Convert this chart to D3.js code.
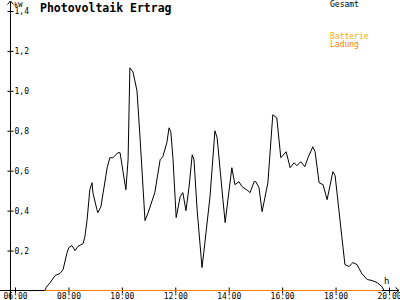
<!DOCTYPE html>
<html>
<head>
<script src="https://d3js.org/d3.v7.min.js"></script>
<style>
  body { margin: 0; background: #fff; }
  text { font-family: "DejaVu Sans Mono", monospace; }
  .axis text { font-size: 8px; fill: #000; }
  .line { fill: none; stroke: #000; stroke-width: 1px; }
</style>
</head>
<body>
<script>
// values
var times = ["07:07","07:10","07:19","07:30","07:41","07:48","07:57","08:01","08:08","08:15",
  "08:21","08:33","08:37","08:42","08:48","08:53","08:55","09:04","09:06","09:13",
  "09:18","09:27","09:33","09:40","09:51","09:56","10:03","10:09","10:14","10:18",
  "10:25","10:34","10:41","10:52","10:59","11:14","11:26","11:32","11:41","11:46",
  "11:50","11:55","12:02","12:11","12:17","12:24","12:31","12:38","12:42","12:49",
  "13:00","13:04","13:18","13:29","13:34","13:47","13:52","14:07","14:14","14:23",
  "14:30","14:43","14:48","14:57","15:01","15:08","15:15","15:28","15:39","15:48",
  "15:57","16:09","16:18","16:27","16:33","16:42","16:51","16:58","17:09","17:14",
  "17:23","17:32","17:41","17:54","17:59","18:14","18:21","18:30","18:39","18:48",
  "18:59","19:11","19:22","19:33","19:44","19:49"];
var gesamt = [0,0.015,0.04,0.075,0.085,0.105,0.19,0.215,0.225,0.2,
  0.22,0.235,0.27,0.355,0.505,0.54,0.49,0.405,0.39,0.42,
  0.49,0.615,0.665,0.665,0.69,0.69,0.59,0.505,0.655,1.115,
  1.095,1.0,0.76,0.35,0.39,0.49,0.655,0.67,0.74,0.815,
  0.795,0.655,0.365,0.47,0.49,0.4,0.52,0.68,0.655,0.405,
  0.115,0.19,0.47,0.8,0.765,0.455,0.34,0.615,0.53,0.545,
  0.52,0.5,0.49,0.545,0.545,0.515,0.395,0.54,0.88,0.865,
  0.665,0.695,0.615,0.64,0.625,0.645,0.62,0.665,0.72,0.695,
  0.54,0.53,0.455,0.595,0.575,0.27,0.13,0.12,0.14,0.13,
  0.085,0.055,0.05,0.04,0.02,0];
var battStart = "07:07", battEnd = "19:44";
var yTicks = [0.2, 0.4, 0.6, 0.8, 1.0, 1.2, 1.4];
var xTicks = ["06:00","08:00","10:00","12:00","14:00","16:00","18:00","20:00"];
var legend = ["Gesamt", "Batterie", "Ladung"];

var parseTime = d3.timeParse("%H:%M");

var svg = d3.select("body").append("svg")
    .attr("width", 400)
    .attr("height", 300);

var x_scale = d3.scaleTime()
    .domain([parseTime("06:00"), parseTime("20:00")])
    .range([15, 389]);

var y_scale = d3.scaleLinear()
    .domain([0, 1.4])
    .range([290.5, 11]);

var fmt = function(d) { return d3.format(".1f")(d).replace(".", ","); };

// y axis
var y_axis = d3.axisLeft(y_scale).tickValues(yTicks).tickFormat(fmt).tickSize(0);
var gy = svg.append("g").attr("class", "axis")
    .attr("transform", "translate(10.5,0)")
    .call(y_axis);
gy.select(".domain").remove();
gy.selectAll(".tick line").attr("x1", -3).attr("x2", 3).attr("stroke", "#000");
gy.selectAll(".tick text").attr("x", 4).attr("dy", "0.35em").style("text-anchor", "start");

// x axis
var x_axis = d3.axisBottom(x_scale)
    .tickValues(xTicks.map(parseTime))
    .tickFormat(d3.timeFormat("%H:%M"))
    .tickSize(0);
var gx = svg.append("g").attr("class", "axis")
    .attr("transform", "translate(0,290.5)")
    .call(x_axis);
gx.select(".domain").remove();
gx.selectAll(".tick line").attr("y1", -3).attr("y2", 3).attr("stroke", "#000");
gx.selectAll(".tick text").attr("y", 3).attr("dy", "0.71em");

// axis lines with arrows
svg.append("line").attr("x1", 10.5).attr("x2", 10.5).attr("y1", 1).attr("y2", 300).attr("stroke", "#000");
svg.append("path").attr("d", "M7.5,4.5 L10.5,1 L13.5,4.5").attr("fill", "none").attr("stroke", "#000");
svg.append("line").attr("x1", 0).attr("x2", 399).attr("y1", 290.5).attr("y2", 290.5).attr("stroke", "#000");
svg.append("path").attr("d", "M395.5,287.5 L399,290.5 L395.5,293.5").attr("fill", "none").attr("stroke", "#000");

svg.append("text").attr("x", 14).attr("y", 7).style("font-size", "7px").text("kW");
svg.append("text").attr("x", 384).attr("y", 284).style("font-size", "9px").text("h");

svg.append("text")
    .attr("x", 40).attr("y", 12)
    .style("font-size", "11.5px").style("font-weight", "bold")
    .text("Photovoltaik Ertrag");

// battery + charge lines (zero)
svg.append("line")
    .attr("x1", x_scale(parseTime(battStart))).attr("x2", x_scale(parseTime(battEnd)))
    .attr("y1", y_scale(0)).attr("y2", y_scale(0))
    .attr("stroke", "#ffaa00").attr("stroke-width", 1);
svg.append("line")
    .attr("x1", x_scale(parseTime(battStart))).attr("x2", x_scale(parseTime(battEnd)))
    .attr("y1", y_scale(0)).attr("y2", y_scale(0))
    .attr("stroke", "#ff8000").attr("stroke-width", 1);

// total line
var data = times.map(function(t, i) { return {t: parseTime(t), v: gesamt[i]}; });
var valueline = d3.line()
    .x(function(d) { return x_scale(d.t); })
    .y(function(d) { return y_scale(d.v); });
svg.append("path").attr("class", "line").attr("d", valueline(data));

// legend
var legColors = ["#000", "#ffaa00", "#ff8000"];
var legY = [7, 39, 47];
svg.selectAll(".leg").data(legend).enter().append("text")
    .attr("class", "leg")
    .attr("x", 330)
    .attr("y", function(d, i) { return legY[i]; })
    .style("font-size", "8px")
    .attr("fill", function(d, i) { return legColors[i]; })
    .text(function(d) { return d; });
</script>
</body>
</html>
